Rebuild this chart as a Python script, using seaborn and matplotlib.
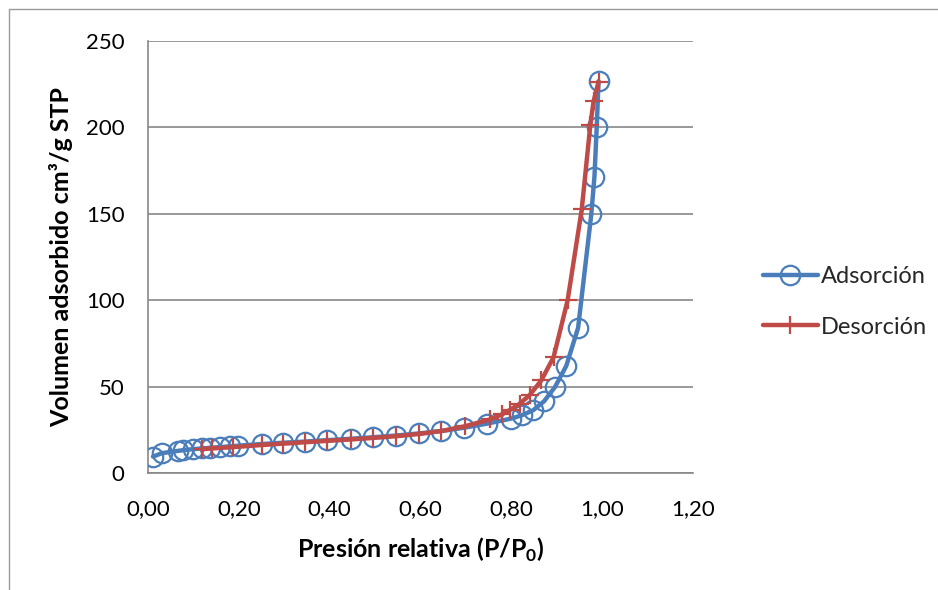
import numpy as np
import pandas as pd
import seaborn as sns
import matplotlib.pyplot as plt
from matplotlib.lines import Line2D

# isoterma de adsorcion / desorcion
p_ads = [0.011, 0.031, 0.066, 0.077, 0.099, 0.119, 0.137, 0.159, 0.181, 0.198,
         0.251, 0.297, 0.346, 0.395, 0.446, 0.496, 0.547, 0.597, 0.646, 0.696,
         0.747, 0.800, 0.823, 0.848, 0.872, 0.896, 0.921, 0.947, 0.976, 0.983,
         0.988, 0.992]
v_ads = [9.5, 11.5, 12.8, 13.2, 13.8, 14.2, 14.6, 15.0, 15.4, 15.8,
         16.8, 17.5, 18.2, 19.0, 19.8, 20.7, 21.7, 22.9, 24.3, 26.2,
         28.6, 31.5, 33.4, 36.3, 41.5, 49.7, 62.0, 84.0, 149.6, 171.5,
         200.0, 226.7]

p_des = [0.992, 0.981, 0.974, 0.955, 0.924, 0.893, 0.866, 0.840, 0.818, 0.797,
         0.780, 0.753, 0.697, 0.646, 0.597, 0.547, 0.496, 0.446, 0.395, 0.346,
         0.297, 0.251, 0.188, 0.140, 0.118]
v_des = [226.5, 215.0, 201.5, 152.5, 100.0, 67.0, 53.6, 45.0, 40.0, 36.5,
         34.0, 31.0, 27.0, 24.3, 22.6, 21.3, 20.3, 19.4, 18.6, 17.8,
         17.0, 16.2, 15.0, 14.2, 13.8]

x_ticks = [0.0, 0.2, 0.4, 0.6, 0.8, 1.0, 1.2]
x_labels = ["0,00", "0,20", "0,40", "0,60", "0,80", "1,00", "1,20"]
y_ticks = [0, 50, 100, 150, 200, 250]

blue = "#4A7EBB"
red = "#BE4B48"
grid = "#878787"

sns.set_theme(style="white")
plt.rcParams["font.family"] = ["Lato", "DejaVu Sans"]
plt.rcParams["mathtext.fontset"] = "custom"
plt.rcParams["mathtext.rm"] = "Lato"
plt.rcParams["mathtext.bf"] = "Lato:bold"

ads_df = pd.DataFrame({"p": p_ads, "v": v_ads})
des_df = pd.DataFrame({"p": p_des, "v": v_des})

fig = plt.figure(figsize=(9.38, 5.90), dpi=100)
ax = fig.add_axes([148 / 938, 1 - 473 / 590, 545 / 938, 432 / 590])

sns.lineplot(data=ads_df, x="p", y="v", ax=ax, sort=False, color=blue, lw=3.2,
             marker="o", ms=14, mfc="none", mec=blue, mew=1.6,
             label="Adsorción", zorder=3)
sns.lineplot(data=des_df, x="p", y="v", ax=ax, sort=False, color=red, lw=3.2,
             marker="+", ms=13.5, mec=red, mew=1.6,
             label="Desorción", zorder=4)

ax.set_xlim(0, 1.2)
ax.set_ylim(0, 250)
ax.set_xticks(x_ticks)
ax.set_xticklabels(x_labels)
ax.set_yticks(y_ticks)
ax.tick_params(axis="both", length=0, labelsize=16, colors="black")
ax.tick_params(axis="y", pad=17)
ax.tick_params(axis="x", pad=19)

ax.yaxis.grid(True, color=grid, lw=1.2)
ax.xaxis.grid(False)
ax.set_axisbelow(True)
for s in ["top", "right"]:
    ax.spines[s].set_visible(False)
for s in ["left", "bottom"]:
    ax.spines[s].set_color(grid)
    ax.spines[s].set_linewidth(1.2)

ax.set_xlabel(r"Presión relativa (P/P$_\mathbf{0}$)", fontsize=18, fontweight="bold", color="black")
ax.set_ylabel("Volumen adsorbido cm³/g STP", fontsize=18, fontweight="bold", color="black")
ax.xaxis.set_label_coords(0.5, -0.145)
ax.yaxis.set_label_coords(-0.138, 0.5)

ax.get_legend().remove()
handles, labels = ax.get_legend_handles_labels()
fig.legend(handles, labels, loc="center left", bbox_to_anchor=(742 / 938, 1 - 302 / 590),
           frameon=False, fontsize=17, handlelength=2.3, handletextpad=0.15,
           labelspacing=1.25)

# marco exterior del grafico
fig.add_artist(Line2D([9 / 938, 1], [1 - 9 / 590, 1 - 9 / 590], color="#9A9A9A", lw=1.0))
fig.add_artist(Line2D([9 / 938, 9 / 938], [0, 1 - 9 / 590], color="#9A9A9A", lw=1.0))

fig.savefig("out.png", dpi=100)
